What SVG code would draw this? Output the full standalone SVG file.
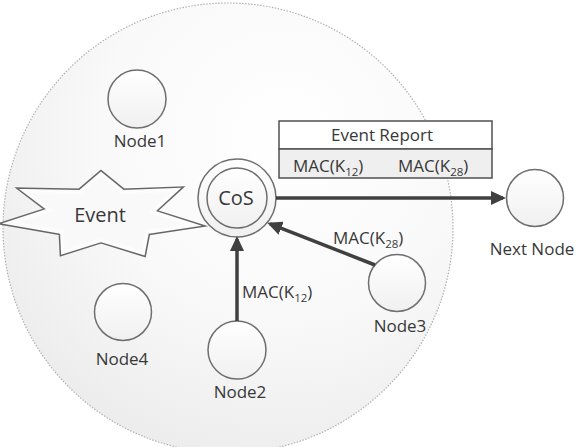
<svg xmlns="http://www.w3.org/2000/svg" width="577" height="447" viewBox="0 0 577 447">
<defs>
<radialGradient id="bg" cx="0.62" cy="0.3" r="0.8" fx="0.62" fy="0.3">
<stop offset="0" stop-color="#ffffff"/>
<stop offset="0.5" stop-color="#f9f9f9"/>
<stop offset="1" stop-color="#eaeaea"/>
</radialGradient>
<linearGradient id="ng" x1="0" y1="0" x2="0" y2="1">
<stop offset="0" stop-color="#ffffff"/>
<stop offset="1" stop-color="#f0f0f0"/>
</linearGradient>
<marker id="arr" markerUnits="userSpaceOnUse" markerWidth="16" markerHeight="14" viewBox="0 0 16 14" refX="12" refY="7" orient="auto">
<path d="M0,0 L15,7 L0,14 Z" fill="#404040"/>
</marker>
</defs>
<style>
text{font-family:"Open Sans","Liberation Sans",sans-serif;fill:#383838;}
.lbl{font-size:17px;text-anchor:middle;}
.node{fill:url(#ng);stroke:#6e6e6e;stroke-width:1.5;}
.conn{stroke:#404040;stroke-width:3.5;fill:none;marker-end:url(#arr);}
.mac{font-size:17px;}
.sub{font-size:11.5px;}
.star{stroke-linejoin:miter;stroke-miterlimit:20;}
</style>
<circle id="area" cx="228" cy="228" r="225" fill="url(#bg)" stroke="#b0b0b0" stroke-width="1.2" stroke-dasharray="1.5 1.5"/>
<g id="event">
<polygon class="star" points="25,191 80,192 101,174 123,192 176,190 152,212 193,225 147,232 143,253 101,240 63,252 62,232 10,223 50,210" fill="#f9f9f9" stroke="#666666" stroke-width="7"/>
<polygon class="star" points="25,191 80,192 101,174 123,192 176,190 152,212 193,225 147,232 143,253 101,240 63,252 62,232 10,223 50,210" fill="#f9f9f9" stroke="#fcfcfc" stroke-width="4"/>
<text x="100" y="222" font-size="20" text-anchor="middle">Event</text>
</g>
<g id="node1">
<circle class="node" cx="137" cy="99" r="29"/>
<text class="lbl" x="140" y="147">Node1</text>
</g>
<g id="node4">
<circle class="node" cx="123" cy="312" r="28.5"/>
<text class="lbl" x="122" y="365">Node4</text>
</g>
<g id="node2">
<circle class="node" cx="237" cy="350" r="29"/>
<text class="lbl" x="240" y="398">Node2</text>
</g>
<g id="node3">
<circle class="node" cx="397" cy="283" r="28.5"/>
<text class="lbl" x="400" y="332">Node3</text>
</g>
<g id="nextnode">
<circle class="node" cx="535" cy="198" r="28.5"/>
<text class="lbl" x="532" y="255">Next Node</text>
</g>
<g id="cos">
<circle cx="237" cy="198" r="39" fill="url(#ng)" stroke="#6e6e6e" stroke-width="1.5"/>
<circle cx="237" cy="198" r="30" fill="url(#ng)" stroke="#6e6e6e" stroke-width="1.5"/>
<text x="236" y="205" font-size="20" text-anchor="middle">CoS</text>
</g>
<g id="report">
<rect x="279" y="121" width="213" height="28" fill="#ffffff" stroke="#505050" stroke-width="1.5"/>
<rect x="279" y="149" width="213" height="29" fill="#efefef" stroke="#505050" stroke-width="1.5"/>
<text class="lbl" x="382" y="141">Event Report</text>
<text class="mac" x="293" y="172">MAC(K<tspan class="sub" dy="4">12</tspan><tspan dy="-4">)</tspan></text>
<text class="mac" x="398" y="172">MAC(K<tspan class="sub" dy="4">28</tspan><tspan dy="-4">)</tspan></text>
</g>
<g id="connectors">
<line class="conn" x1="237" y1="321" x2="237" y2="239"/>
<line class="conn" x1="375" y1="265" x2="270" y2="223.8"/>
<line class="conn" x1="276" y1="198" x2="503" y2="198"/>
<text class="mac" x="242" y="298">MAC(K<tspan class="sub" dy="4">12</tspan><tspan dy="-4">)</tspan></text>
<text class="mac" x="333" y="244">MAC(K<tspan class="sub" dy="4">28</tspan><tspan dy="-4">)</tspan></text>
</g>
</svg>
